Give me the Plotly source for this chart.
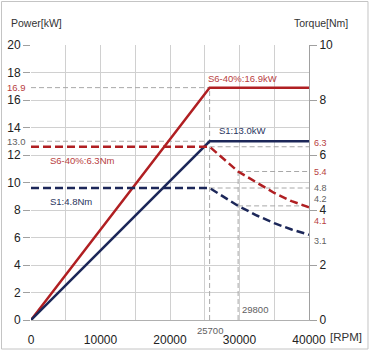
import plotly.graph_objects as go

# ---- data ----
rpm_power = [0, 25700, 40000]
power_s6 = [0, 16.9, 16.9]
power_s1 = [0, 13.0, 13.0]

rpm_torque = [0, 25700, 29800, 32500, 35000, 37500, 40000]
torque_s6 = [6.3, 6.3, 5.4, 4.98, 4.62, 4.32, 4.1]
torque_s1 = [4.8, 4.8, 4.15, 3.8, 3.52, 3.29, 3.1]

base_speed = 25700
mid_speed = 29800
x_max = 40000
x_ticks = [0, 5000, 10000, 15000, 20000, 25000, 30000, 35000, 40000]
x_ticktext = ["0", "", "10000", "", "20000", "", "30000", "", "40000"]
power_ticks = [0, 2, 4, 6, 8, 10, 12, 14, 16, 18, 20]
torque_ticks = [0, 2, 4, 6, 8, 10]

RED = "#b01f22"
NAVY = "#1c2759"
RED_TXT = "#b8403e"
NAVY_TXT = "#2a3560"
GREY = "#a8a8a8"
GREY_TXT = "#606060"
FONT = "Liberation Sans, Arial, sans-serif"

fig = go.Figure()

def gline(x, y, yaxis="y"):
    fig.add_trace(go.Scatter(x=x, y=y, mode="lines", yaxis=yaxis, hoverinfo="skip",
                             line=dict(color=GREY, width=1, dash="5px,3px"), showlegend=False))

# grey dashed reference lines
gline([0, base_speed], [power_s6[1], power_s6[1]])
gline([base_speed, base_speed], [0, power_s6[1]])
gline([0, base_speed], [power_s1[1], power_s1[1]])
gline([base_speed, x_max], [torque_s6[1], torque_s6[1]], "y2")
gline([mid_speed, x_max], [torque_s6[2], torque_s6[2]], "y2")
gline([base_speed, x_max], [torque_s1[1], torque_s1[1]], "y2")
gline([mid_speed, x_max], [torque_s1[2], torque_s1[2]], "y2")
gline([mid_speed, mid_speed], [0, torque_s6[2]], "y2")

# curves
fig.add_trace(go.Scatter(x=rpm_power, y=power_s6, mode="lines", line=dict(color=RED, width=2.5),
                         showlegend=False))
fig.add_trace(go.Scatter(x=rpm_power, y=power_s1, mode="lines", line=dict(color=NAVY, width=2.5),
                         showlegend=False))
fig.add_trace(go.Scatter(x=rpm_torque, y=torque_s6, mode="lines", yaxis="y2",
                         line=dict(color=RED, width=2.5, dash="8px,4px"), showlegend=False))
fig.add_trace(go.Scatter(x=rpm_torque, y=torque_s1, mode="lines", yaxis="y2",
                         line=dict(color=NAVY, width=2.5, dash="8px,4px"), showlegend=False))

ann = []
def txt(text, x, y, color, size=9.5, xref="x", yref="y", xanchor="center", yanchor="middle", xshift=0, yshift=0):
    ann.append(dict(text=text, x=x, y=y, xref=xref, yref=yref, showarrow=False,
                    xanchor=xanchor, yanchor=yanchor, xshift=xshift, yshift=yshift,
                    font=dict(color=color, size=size, family=FONT)))

# left value labels
txt(f"{power_s6[1]:.1f}", 0, power_s6[1], RED_TXT, xref="paper", xanchor="right", xshift=-3)
txt(f"{power_s1[1]:.1f}", 0, power_s1[1], GREY_TXT, xref="paper", xanchor="right", xshift=-3)
# right value labels
txt(f"{torque_s6[1]:.1f}", 1, torque_s6[1], RED_TXT, size=9, xref="paper", yref="y2", xanchor="left", xshift=3, yshift=4)
txt(f"{torque_s6[2]:.1f}", 1, torque_s6[2], RED_TXT, size=9, xref="paper", yref="y2", xanchor="left", xshift=3)
txt(f"{torque_s1[1]:.1f}", 1, torque_s1[1], GREY_TXT, size=9, xref="paper", yref="y2", xanchor="left", xshift=3)
txt(f"{torque_s1[2]:.1f}", 1, torque_s1[2], GREY_TXT, size=9, xref="paper", yref="y2", xanchor="left", xshift=3, yshift=7)
txt(f"{torque_s6[-1]:.1f}", 1, torque_s6[-1], RED_TXT, size=9, xref="paper", yref="y2", xanchor="left", xshift=3, yshift=-14)
txt(f"{torque_s1[-1]:.1f}", 1, torque_s1[-1], GREY_TXT, size=9, xref="paper", yref="y2", xanchor="left", xshift=3, yshift=-6)
# speed labels
txt(str(base_speed), base_speed, 0, GREY_TXT, yanchor="top", yshift=-3)
txt(str(mid_speed), mid_speed, 0, GREY_TXT, xanchor="left", yanchor="bottom", xshift=2, yshift=3)
# curve names
txt("S6-40%:16.9kW", 30500, power_s6[1], RED_TXT, yanchor="bottom", yshift=2)
txt("S1:13.0kW", 30300, power_s1[1], NAVY_TXT, yanchor="bottom", yshift=3)
txt("S6-40%:6.3Nm", 2400, torque_s6[0], RED_TXT, yref="y2", xanchor="left", yanchor="top", yshift=-6)
txt("S1:4.8Nm", 2400, torque_s1[0], NAVY_TXT, yref="y2", xanchor="left", yanchor="top", yshift=-6)
# axis titles
txt("Power[kW]", 0, 1, "#333333", size=10.5, xref="paper", yref="paper", xanchor="left", yanchor="bottom", xshift=-22, yshift=14)
txt("Torque[Nm]", 1, 1, "#333333", size=10.5, xref="paper", yref="paper", xanchor="right", yanchor="bottom", xshift=41, yshift=14)
txt("[RPM]", 1, 0, "#333333", size=11.5, xref="paper", yref="paper", xanchor="left", yanchor="top", xshift=19, yshift=-9)

fig.update_layout(
    width=370, height=351,
    margin=dict(l=31, r=61, t=45, b=31),
    paper_bgcolor="white", plot_bgcolor="white",
    font=dict(family=FONT, size=12, color="#222222"),
    showlegend=False,
    annotations=ann,
    xaxis=dict(range=[0, x_max], tickvals=x_ticks, ticktext=x_ticktext, showgrid=True,
               gridcolor="#d0d0d0", gridwidth=1, zeroline=False, showline=True,
               linecolor="#b0b0b0", ticks="", ticklabelstandoff=9, automargin=False,
               tickfont=dict(size=12, color="#222222")),
    yaxis=dict(range=[0, 20], tickvals=power_ticks, showgrid=True, gridcolor="#d0d0d0",
               zeroline=False, showline=False, ticks="outside", ticklen=7, tickcolor="#a0a0a0",
               automargin=False, tickfont=dict(size=12, color="#222222")),
    yaxis2=dict(range=[0, 10], tickvals=torque_ticks, overlaying="y", side="right",
                showgrid=False, zeroline=False, showline=True, linecolor="#a0a0a0",
                ticks="outside", ticklen=7, tickcolor="#a0a0a0", automargin=False,
                tickfont=dict(size=12, color="#222222")),
    shapes=[dict(type="rect", xref="paper", yref="paper", x0=-0.1061, x1=1.2122,
                 y0=-0.1055, y1=1.1582, line=dict(color="#c4c4c4", width=1), layer="below")],
)

fig.write_html("out.html")
